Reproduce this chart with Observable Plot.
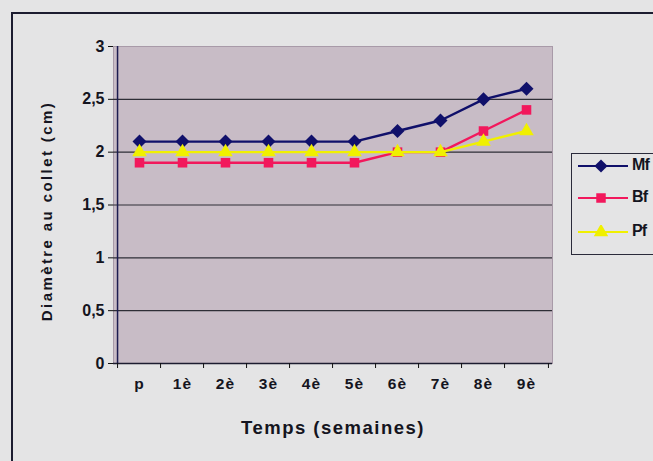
<!DOCTYPE html>
<html>
<head>
<meta charset="utf-8">
<script src="https://cdn.jsdelivr.net/npm/d3@7"></script>
<script src="https://cdn.jsdelivr.net/npm/@observablehq/plot@0.6"></script>
<style>
  html, body { margin: 0; padding: 0; background: #e4e4e5; width: 653px; height: 461px; overflow: hidden; }
  #wrap { position: relative; width: 653px; height: 461px; }
  #border { position: absolute; left: 11px; top: 12px; width: 700px; height: 500px; border: 2px solid #1c1c30; box-sizing: border-box; }
  #chart { position: absolute; left: 0; top: 0; }
  #chart text { font-weight: bold; font-size: 16px; fill: #141420; }
  #legend { position: absolute; left: 571px; top: 153px; width: 100px; height: 102px; border: 1px solid #2a2a3a; box-sizing: border-box; font-family: "Liberation Sans Narrow", "Liberation Sans", Arial, sans-serif; font-weight: bold; font-size: 16px; }
  .item { position: absolute; left: 5px; height: 14px; }
  .item svg { position: absolute; left: 0; top: 0; }
  .item span { position: absolute; left: 55px; top: -3px; letter-spacing: -0.8px; color: #141420; }
</style>
</head>
<body>
<div id="wrap">
  <div id="border"></div>
  <div id="chart"></div>
  <div id="legend"></div>
</div>
<script>
const categories = ["p", "1è", "2è", "3è", "4è", "5è", "6è", "7è", "8è", "9è"];
const mf = [2.1, 2.1, 2.1, 2.1, 2.1, 2.1, 2.2, 2.3, 2.5, 2.6];
const bf = [1.9, 1.9, 1.9, 1.9, 1.9, 1.9, 2.0, 2.0, 2.2, 2.4];
const pf = [2.0, 2.0, 2.0, 2.0, 2.0, 2.0, 2.0, 2.0, 2.1, 2.2];
const seriesNames = ["Mf", "Bf", "Pf"];
const seriesValues = [mf, bf, pf];
const seriesColors = ["#10106a", "#f2185c", "#f0f000"];
const seriesSymbols = ["diamond2", "square", "triangle"];
const yTicks = [0, 0.5, 1, 1.5, 2, 2.5, 3];
const yLabel = "Diamètre au collet (cm)";
const xLabel = "Temps (semaines)";

const W = 653, H = 461, ml = 113, mr = 101, mt = 46, mb = 98;
const step = (W - ml - mr) / categories.length;
const font = "'Liberation Sans', Arial, sans-serif";

const rows = seriesNames.map((name, s) =>
  categories.map((c, i) => ({series: name, cat: c, value: seriesValues[s][i]}))
);

const seriesMarks = rows.flatMap((data, s) => [
  Plot.line(data, {x: "cat", y: "value", stroke: seriesColors[s], strokeWidth: 2.4}),
  Plot.dot(data, {x: "cat", y: "value", symbol: () => seriesSymbols[s], fill: seriesColors[s], stroke: "none", r: s === 0 ? 6.3 : 5.4})
]);

const chart = Plot.plot({
  width: W,
  height: H,
  marginLeft: ml,
  marginRight: mr,
  marginTop: mt,
  marginBottom: mb,
  style: {background: "transparent", fontFamily: font, color: "#111"},
  x: {type: "point", domain: categories, padding: 0.5, align: 0.5},
  y: {domain: [0, 3]},
  symbol: {type: "identity"},
  marks: [
    Plot.frame({fill: "#c8bcc6", stroke: "#a89aa8"}),
    Plot.ruleY(yTicks.slice(1, -1), {stroke: "#2e2e36", strokeWidth: 1.2}),
    Plot.ruleY([0], {stroke: "#1c1c30", strokeWidth: 1.5}),
    Plot.ruleX([categories[0]], {dx: -step / 2, stroke: "#1c1c50", strokeWidth: 1.5}),
    Plot.axisY({
      ticks: yTicks,
      tickFormat: d => String(d).replace(".", ","),
      tickSize: 5,
      tickPadding: 4,
      label: yLabel,
      labelAnchor: "center",
      labelArrow: false,
      labelOffset: 72
    }),
    Plot.axisX({
      ticks: categories,
      tickSize: 5,
      tickFormat: () => "",
      dx: -step / 2,
      label: null
    }),
    Plot.axisX({
      ticks: [categories[categories.length - 1]],
      tickSize: 5,
      tickFormat: () => "",
      dx: step / 2,
      label: null
    }),
    Plot.axisX({
      ticks: categories,
      tickSize: 0,
      tickPadding: 14,
      label: xLabel,
      labelAnchor: "center",
      labelArrow: false,
      labelOffset: 70
    }),
    ...seriesMarks
  ]
});
chart.querySelectorAll("text").forEach(t => {
  if (categories.includes(t.textContent)) { t.style.letterSpacing = "1.2px"; t.style.fontSize = "15.5px"; }
  if (t.textContent === xLabel) { t.style.fontSize = "18.5px"; t.style.letterSpacing = "1.5px"; }
  if (t.textContent === yLabel) { t.style.fontSize = "15px"; t.style.letterSpacing = "2.4px"; t.setAttribute("dx", "-6"); }
});
document.getElementById("chart").appendChild(chart);

// legend
const legend = document.getElementById("legend");
const offsets = [12, 44, 78];
seriesNames.forEach((name, s) => {
  const item = document.createElement("div");
  item.className = "item";
  item.style.top = (offsets[s] - 7) + "px";
  const sym = d3.symbol(s === 0 ? d3.symbolDiamond2 : s === 1 ? d3.symbolSquare : d3.symbolTriangle, s === 0 ? 110 : 90)();
  item.innerHTML = `<svg width="56" height="14"><line x1="1" x2="51" y1="7" y2="7" stroke="${seriesColors[s]}" stroke-width="2"/><path transform="translate(24,7)" d="${sym}" fill="${seriesColors[s]}"/></svg><span>${name}</span>`;
  legend.appendChild(item);
});
</script>
</body>
</html>
